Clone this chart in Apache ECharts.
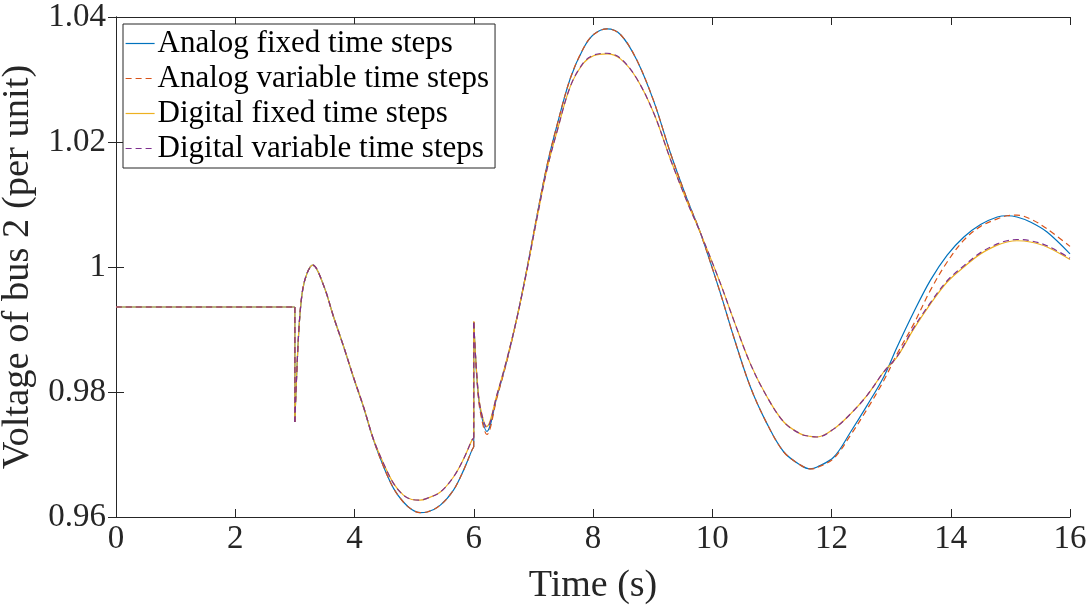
<!DOCTYPE html>
<html>
<head>
<meta charset="utf-8">
<script src="https://cdn.jsdelivr.net/npm/echarts@6/dist/echarts.min.js"></script>
<style>
  html, body { margin: 0; padding: 0; background: #fff; }
  #chart { width: 1089px; height: 608px; }
</style>
</head>
<body>
<div id="chart"></div>
<script>
// Sample times (s); the repeated 3.0 and 6.0 entries carry the step changes
const timeS = [0, 3.0, 3.0, 3.06, 3.12, 3.2, 3.3, 3.48, 3.65, 3.82, 3.99, 4.15, 4.32, 4.49, 4.66, 4.82, 4.96, 5.1, 5.22, 5.44, 5.66, 5.83, 5.97, 6.0, 6.0, 6.055, 6.11, 6.22, 6.39, 6.56, 6.73, 6.89, 7.06, 7.23, 7.40, 7.62, 7.84, 8.01, 8.235, 8.46, 8.73, 9.02, 9.30, 9.58, 9.80, 10.14, 10.36, 10.64, 10.92, 11.20, 11.48, 11.645, 11.76, 12.04, 12.32, 12.60, 12.875, 13.10, 13.38, 13.66, 13.94, 14.22, 14.50, 14.78, 14.945, 15.11, 15.335, 15.615, 16.0];

// Bus 2 voltage (per unit)
const analogFixed = [0.9936, 0.9936, 0.9752, 0.9888, 0.9957, 0.9989, 1.0003, 0.9971, 0.9920, 0.9872, 0.9821, 0.9776, 0.9723, 0.9680, 0.9645, 0.9624, 0.9612, 0.9607, 0.9608, 0.9619, 0.9643, 0.9675, 0.9707, 0.9712, 0.9912, 0.9820, 0.9772, 0.9737, 0.9793, 0.9852, 0.9921, 0.9996, 1.0082, 1.0163, 1.0228, 1.0302, 1.0350, 1.0372, 1.0381, 1.0372, 1.0332, 1.0265, 1.0182, 1.0108, 1.0055, 0.9957, 0.9888, 0.9808, 0.9749, 0.9704, 0.9683, 0.9677, 0.9680, 0.9696, 0.9736, 0.9779, 0.9824, 0.9872, 0.9928, 0.9979, 1.0019, 1.0048, 1.0068, 1.0080, 1.0082, 1.0080, 1.0072, 1.0056, 1.0021];

const analogVariable = [0.9936, 0.9936, 0.9752, 0.9888, 0.9957, 0.9989, 1.0003, 0.9971, 0.9920, 0.9872, 0.9821, 0.9776, 0.9723, 0.9680, 0.9645, 0.9624, 0.9612, 0.9607, 0.9608, 0.9619, 0.9643, 0.9675, 0.9707, 0.9712, 0.9912, 0.9818, 0.9768, 0.9732, 0.9791, 0.9851, 0.9921, 0.9996, 1.0082, 1.0163, 1.0228, 1.0302, 1.0350, 1.0372, 1.0381, 1.0372, 1.0332, 1.0265, 1.0182, 1.0108, 1.0055, 0.9957, 0.9888, 0.9808, 0.9749, 0.9704, 0.9683, 0.9677, 0.9679, 0.9694, 0.9731, 0.9773, 0.9818, 0.9861, 0.9909, 0.9963, 1.0008, 1.0043, 1.0065, 1.0077, 1.0082, 1.0083, 1.0077, 1.0061, 1.0033];

const digitalFixed = [0.9936, 0.9936, 0.9752, 0.9888, 0.9957, 0.9989, 1.0003, 0.9971, 0.9920, 0.9872, 0.9822, 0.9777, 0.9724, 0.9685, 0.9653, 0.9635, 0.9628, 0.9627, 0.9630, 0.9640, 0.9664, 0.9693, 0.9723, 0.9726, 0.9913, 0.9822, 0.9776, 0.9745, 0.9796, 0.9854, 0.9921, 0.9994, 1.0078, 1.0157, 1.0218, 1.0289, 1.0326, 1.0338, 1.0341, 1.0333, 1.0302, 1.0246, 1.0172, 1.0104, 1.0055, 0.9973, 0.9915, 0.9845, 0.9792, 0.9752, 0.9733, 0.9729, 0.9728, 0.9741, 0.9765, 0.9795, 0.9832, 0.9856, 0.9901, 0.9941, 0.9976, 1.0000, 1.0021, 1.0035, 1.0040, 1.0042, 1.0040, 1.0032, 1.0012];

const digitalVariable = [0.9936, 0.9936, 0.9752, 0.9888, 0.9957, 0.9989, 1.0003, 0.9971, 0.9920, 0.9872, 0.9822, 0.9777, 0.9724, 0.9685, 0.9653, 0.9635, 0.9628, 0.9627, 0.9630, 0.9640, 0.9664, 0.9693, 0.9723, 0.9726, 0.9911, 0.9822, 0.9775, 0.9743, 0.9796, 0.9854, 0.9921, 0.9994, 1.0078, 1.0157, 1.0218, 1.0289, 1.0327, 1.0339, 1.0342, 1.0334, 1.0302, 1.0246, 1.0172, 1.0104, 1.0055, 0.9973, 0.9915, 0.9845, 0.9792, 0.9752, 0.9733, 0.9729, 0.9728, 0.9741, 0.9765, 0.9795, 0.9832, 0.9857, 0.9903, 0.9943, 0.9978, 1.0002, 1.0023, 1.0037, 1.0042, 1.0044, 1.0042, 1.0034, 1.0014];

const seriesNames = ['Analog fixed time steps', 'Analog variable time steps', 'Digital fixed time steps', 'Digital variable time steps'];
const seriesValues = [analogFixed, analogVariable, digitalFixed, digitalVariable];
const seriesColors = ['#0072BD', '#D95319', '#EDB120', '#7E2F8E'];
const seriesDash = ['solid', [6, 4], 'solid', [6, 4]];

const xTicks = [0, 2, 4, 6, 8, 10, 12, 14, 16];
const yTicks = [0.96, 0.98, 1, 1.02, 1.04];

const FONT = '"Liberation Serif", "Times New Roman", serif';
const AXIS_COLOR = '#262626';

// Index pairs that share a time value mark a step change; those pieces are
// drawn straight, the rest of each trace is drawn as a smoothed curve.
function splitTrace(values) {
  const pts = timeS.map((t, k) => [t, values[k]]);
  const straight = [];
  const curved = [];
  let run = [];
  for (let k = 0; k < pts.length; k++) {
    const isStep = k + 1 < pts.length && pts[k + 1][0] === pts[k][0];
    if (isStep) {
      run.push(pts[k]);
      if (run.length > 1) { curved.push(...run, null); }
      straight.push(pts[k], pts[k + 1], null);
      run = [];
    } else {
      run.push(pts[k]);
    }
  }
  if (run.length > 1) curved.push(...run);
  return { straight, curved };
}

const chart = echarts.init(document.getElementById('chart'), null, { renderer: 'canvas' });

const series = [];
seriesNames.forEach((name, i) => {
  const parts = splitTrace(seriesValues[i]);
  const lineStyle = { color: seriesColors[i], width: 1.2, type: seriesDash[i] };
  series.push({
    name: name,
    type: 'line',
    symbol: 'none',
    showSymbol: false,
    smooth: 0.35,
    connectNulls: false,
    animation: false,
    z: 2 + i,
    lineStyle: lineStyle,
    itemStyle: { color: seriesColors[i] },
    data: parts.curved
  });
  series.push({
    name: name,
    type: 'line',
    symbol: 'none',
    showSymbol: false,
    smooth: false,
    connectNulls: false,
    animation: false,
    z: 2 + i,
    lineStyle: lineStyle,
    itemStyle: { color: seriesColors[i] },
    data: parts.straight
  });
});

const baseAxisLine = { show: true, lineStyle: { color: AXIS_COLOR, width: 1 } };
const baseTick = { show: true, inside: true, length: 8, lineStyle: { color: AXIS_COLOR, width: 1 } };

chart.setOption({
  backgroundColor: '#fff',
  animation: false,
  grid: {
    left: 116, right: 19, top: 17, bottom: 91,
    containLabel: false,
    outerBoundsMode: 'none'
  },
  legend: {
    show: true,
    data: seriesNames,
    orient: 'vertical',
    left: 123,
    top: 24,
    itemWidth: 29,
    itemHeight: 2,
    itemGap: 0,
    padding: [2, 6, 2, 2],
    backgroundColor: '#fff',
    borderColor: AXIS_COLOR,
    borderWidth: 1,
    borderRadius: 0,
    itemStyle: { opacity: 0 },
    lineStyle: { width: 1.2 },
    textStyle: { fontFamily: FONT, fontSize: 31, color: '#000', lineHeight: 35, padding: [0, 0, 0, -2] }
  },
  xAxis: [
    {
      type: 'value',
      min: xTicks[0],
      max: xTicks[xTicks.length - 1],
      interval: 2,
      position: 'bottom',
      name: 'Time (s)',
      nameLocation: 'middle',
      nameGap: 50,
      nameTextStyle: { fontFamily: FONT, fontSize: 38, color: '#262626' },
      axisLine: baseAxisLine,
      axisTick: baseTick,
      axisLabel: { fontFamily: FONT, fontSize: 33, color: '#262626', margin: 6 },
      splitLine: { show: false }
    },
    {
      type: 'value',
      min: xTicks[0],
      max: xTicks[xTicks.length - 1],
      interval: 2,
      position: 'top',
      axisLine: baseAxisLine,
      axisTick: baseTick,
      axisLabel: { show: false },
      splitLine: { show: false }
    }
  ],
  yAxis: [
    {
      type: 'value',
      min: yTicks[0],
      max: yTicks[yTicks.length - 1],
      interval: 0.02,
      position: 'left',
      name: 'Voltage of bus 2 (per unit)',
      nameLocation: 'middle',
      nameGap: 57,
      nameTextStyle: { fontFamily: FONT, fontSize: 38.5, color: '#262626' },
      axisLine: baseAxisLine,
      axisTick: baseTick,
      axisLabel: {
        fontFamily: FONT, fontSize: 33, color: '#262626', margin: 10,
        formatter: v => String(Math.round(v * 100) / 100)
      },
      splitLine: { show: false }
    },
    {
      type: 'value',
      min: yTicks[0],
      max: yTicks[yTicks.length - 1],
      interval: 0.02,
      position: 'right',
      axisLine: baseAxisLine,
      axisTick: baseTick,
      axisLabel: { show: false },
      splitLine: { show: false }
    }
  ],
  series: series
});
</script>
</body>
</html>
